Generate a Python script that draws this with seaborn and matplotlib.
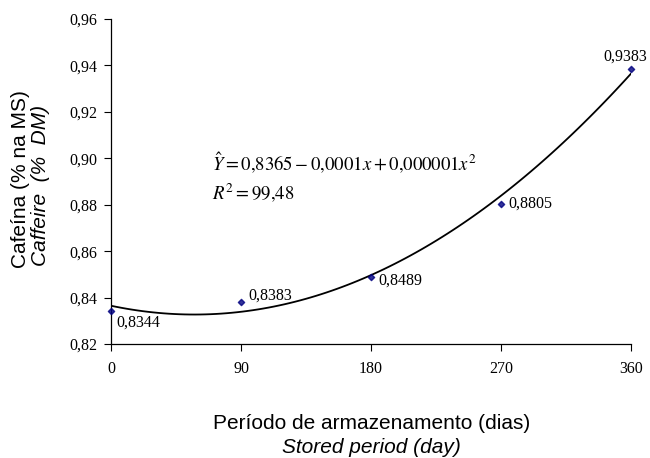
import matplotlib
matplotlib.use("Agg")
import matplotlib.pyplot as plt
import seaborn as sns
import pandas as pd

# storage period (days) and caffeine content (% DM)
days = [0, 90, 180, 270, 360]
cafeina = [0.8344, 0.8383, 0.8489, 0.8805, 0.9383]
point_labels = ["0,8344", "0,8383", "0,8489", "0,8805", "0,9383"]
x_ticks = [0, 90, 180, 270, 360]
y_ticks = [0.82, 0.84, 0.86, 0.88, 0.90, 0.92, 0.94, 0.96]

df = pd.DataFrame({"dias": days, "cafeina": cafeina})

sns.set_style("ticks")
plt.rcParams["mathtext.fontset"] = "stix"
plt.rcParams["text.color"] = "black"
plt.rcParams["xtick.color"] = "black"
plt.rcParams["ytick.color"] = "black"

fig = plt.figure(figsize=(6.5, 4.58), dpi=100)
ax = fig.add_axes([0.1708, 0.2489, 0.80, 0.7096])

# quadratic fit drawn by seaborn itself
sns.regplot(data=df, x="dias", y="cafeina", order=2, ci=None, truncate=True, ax=ax,
            marker="D", color="#000080",
            scatter_kws={"s": 10, "clip_on": False, "zorder": 3},
            line_kws={"color": "black", "linewidth": 1.3})

serif = {"family": "Liberation Serif", "size": 11.5}

# value labels next to the points (offsets in points)
offsets = [(4, -9), (5, 4), (5, -3), (5, 0), (-20, 9)]
for xi, yi, lab, off in zip(days, cafeina, point_labels, offsets):
    ax.annotate(lab, (xi, yi), xytext=off, textcoords="offset points",
                va="center", ha="left", annotation_clip=False, **serif)

ax.text(0.194, 0.557, r"$\hat{Y} = 0{,}8365 - 0{,}0001x + 0{,}000001x^2$",
        transform=ax.transAxes, fontsize=13.5, va="center")
ax.text(0.194, 0.465, r"$R^2 = 99{,}48$", transform=ax.transAxes, fontsize=13.5,
        va="center")

ax.set_xlim(0, 360)
ax.set_ylim(0.82, 0.96)
ax.set_xticks(x_ticks)
ax.set_yticks(y_ticks)
tick_font = {"family": "Liberation Serif", "size": 11.5}
ax.set_xticklabels([str(t) for t in x_ticks], fontdict=tick_font)
ax.set_yticklabels([f"{t:.2f}".replace(".", ",") for t in y_ticks], fontdict=tick_font)
ax.tick_params(axis="both", direction="out", length=5, width=0.8,
               color="black", labelcolor="black")
ax.tick_params(axis="y", pad=5)
ax.tick_params(axis="x", pad=7)
sns.despine(ax=ax)
for side in ["left", "bottom"]:
    ax.spines[side].set_linewidth(0.9)
    ax.spines[side].set_color("black")
ax.set_xlabel("")
ax.set_ylabel("")

sans = "Liberation Sans"
fig.text(0.032, 0.608, "Cafeína (% na MS)", rotation=90, ha="center", va="center",
         family=sans, fontsize=15)
fig.text(0.0626, 0.596, "Caffeire  (%  DM)", rotation=90, ha="center", va="center",
         family=sans, fontsize=15, style="italic")
fig.text(0.571, 0.0764, "Período de armazenamento (dias)", ha="center", va="center",
         family=sans, fontsize=15)
fig.text(0.571, 0.024, "Stored period (day)", ha="center", va="center",
         family=sans, fontsize=15, style="italic")

fig.savefig("out.png", dpi=100)
